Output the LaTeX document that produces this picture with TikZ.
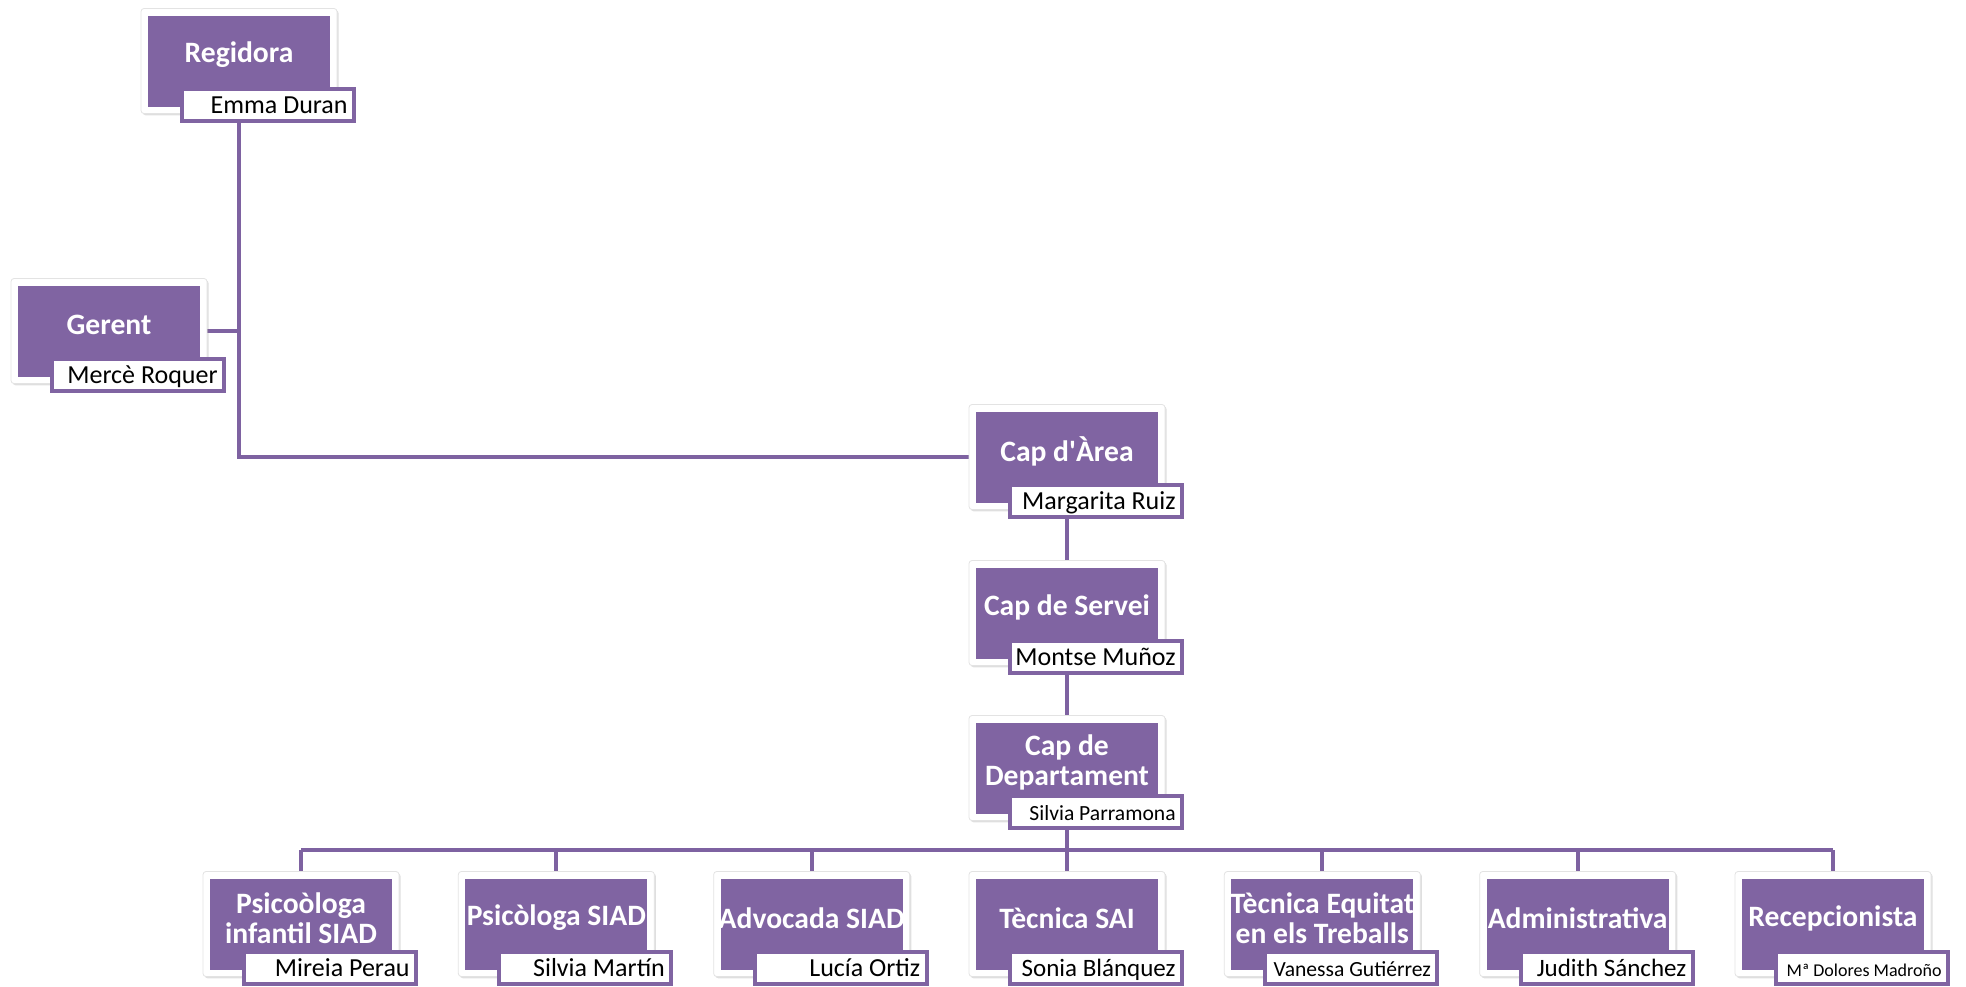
\documentclass[tikz,border=0pt]{standalone}
\usepackage{fontspec}
\setmainfont{Carlito}[Ligatures=TeXOff]
\usetikzlibrary{shadows,backgrounds}
\definecolor{purp}{HTML}{8064A2}
\definecolor{lin}{HTML}{7E62A1}
\tikzset{
  card/.style={draw=gray!22, line width=0.4pt, fill=white, rounded corners=1.5pt,
    minimum width=98pt, minimum height=52.5pt, inner sep=0pt,
    drop shadow={shadow xshift=0.8pt, shadow yshift=-0.9pt, opacity=0.25, fill=gray}},
  purpbox/.style={fill=purp, draw=none, minimum width=91pt, minimum height=45.5pt, inner sep=0pt},
  titletext/.style={text=white, font=\fontsize{14.8}{15}\selectfont\bfseries, align=center, inner sep=0pt},
  namebox/.style={draw=purp, line width=2pt, fill=white, minimum width=86pt, minimum height=16pt, inner sep=0pt},
  nametext/.style={anchor=base east, inner sep=0pt, text=black},
  conn/.style={draw=lin, line width=2pt},
}
\newcommand\orgcard[6]{%
  \node[card] (#1) at ({#2+99},{#3+53}) {};
  \node[purpbox] (#1-p) at ({#2+99},{#3+53.5}) {};
  \node[titletext] (#1-t) at ({#2+99},{#3+47}) {#4};
  \node[namebox] (#1-n) at ({#2+128},{#3+97}) {};
  \node[nametext, font=\fontsize{#6}{#6}\selectfont] (#1-nt) at ({#2+208},{#3+105}) {#5};
}
\begin{document}
\begin{tikzpicture}[x=0.5pt, y=-0.5pt]
\useasboundingbox (0,0) rectangle (1966,986);
\orgcard{reg}{140}{8}{Regidora}{Emma Duran}{13}
\orgcard{ger}{10}{278}{Gerent}{Mercè Roquer}{13}
\orgcard{area}{968}{404}{Cap d'Àrea}{Margarita Ruiz}{13}
\orgcard{serv}{968}{560}{Cap de Servei}{Montse Muñoz}{13}
\orgcard{dep}{968}{715}{Cap de\\Departament}{Silvia Parramona}{10.8}
\orgcard{b0}{202}{871}{Psicoòloga\\infantil SIAD}{Mireia Perau}{13}
\orgcard{b1}{457.33}{871}{Psicòloga SIAD}{Silvia Martín}{13}
\orgcard{b2}{712.67}{871}{Advocada SIAD}{Lucía Ortiz}{13}
\orgcard{b3}{968}{871}{Tècnica SAI}{Sonia Blánquez}{12.5}
\orgcard{b4}{1223.33}{871}{Tècnica Equitat\\en els Treballs}{Vanessa Gutiérrez}{10.8}
\orgcard{b5}{1478.67}{871}{Administrativa}{Judith Sánchez}{12.5}
\orgcard{b6}{1734}{871}{Recepcionista}{Mª Dolores Madroño}{9}
\coordinate (bus) at (1067,850);
\begin{scope}[on background layer]
\draw[conn] (reg.south) |- (area.west);
\draw[conn] (ger.east) -- (ger.east -| reg.south);
\draw[conn] (area.south) -- (serv.north);
\draw[conn] (serv.south) -- (dep.north);
\draw[conn] (dep.south) -- (bus);
\draw[conn] (bus -| b0.north) -- (bus -| b6.north);
\foreach \b in {b0,b1,b2,b3,b4,b5,b6}{
  \draw[conn] (bus -| \b.north) -- (\b.north);
}
\end{scope}
\end{tikzpicture}
\end{document}
